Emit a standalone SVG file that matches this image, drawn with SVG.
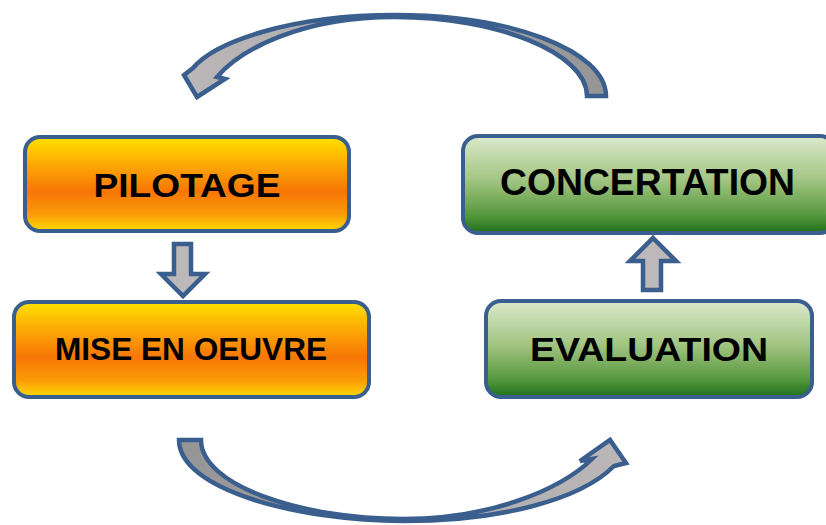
<svg xmlns="http://www.w3.org/2000/svg" width="826" height="525" viewBox="0 0 826 525">
<defs>
<linearGradient id="gOrange" x1="0" y1="0" x2="0" y2="1">
<stop offset="0" stop-color="#FFE300"/>
<stop offset="0.25" stop-color="#FDB005"/>
<stop offset="0.58" stop-color="#F77606"/>
<stop offset="0.82" stop-color="#FA9A08"/>
<stop offset="1" stop-color="#FFDA00"/>
</linearGradient>
<linearGradient id="gGreen" x1="0" y1="0" x2="0" y2="1">
<stop offset="0" stop-color="#DBE9CC"/>
<stop offset="0.45" stop-color="#A3C583"/>
<stop offset="0.8" stop-color="#5A9A40"/>
<stop offset="1" stop-color="#1D7119"/>
</linearGradient>
<linearGradient id="gTop" x1="1" y1="0" x2="0" y2="0">
<stop offset="0" stop-color="#959595"/>
<stop offset="1" stop-color="#BCB8BA"/>
</linearGradient>
<linearGradient id="gBot" x1="0" y1="0" x2="1" y2="0">
<stop offset="0" stop-color="#959595"/>
<stop offset="1" stop-color="#BCB8BA"/>
</linearGradient>
</defs>
<style>
.box{stroke:#3A5F8E;stroke-width:4}
.orange{fill:url(#gOrange)}
.green{fill:url(#gGreen)}
.lbl{font-family:"Liberation Sans",Arial,sans-serif;font-weight:bold;fill:#000;text-anchor:middle}
.arr{stroke:#3A5F8E;stroke-width:4.5;stroke-linejoin:miter}
</style>
<rect width="826" height="525" fill="#fff"/>
<g id="connectors">
<path class="arr" fill="url(#gTop)" d="M606 96 C606 51 512 15 395 15 C290 15 215 42 193 68 L184 75 L197 97 L225 79 L217 77 C240 50 300 17 395 17 C497 17 587 53 587 96 Z"/>
<path class="arr" fill="url(#gBot)" d="M179 440 C179 490 300 521 403 521 C500 521 580 500 614 466 L626 463 L610 440 L580 461 L592 459 C560 490 490 519 403 519 C300 519 201 485 201 440 Z"/>
<path class="arr" fill="#BDB9BB" d="M174 244 L191 244 L191 274 L205 274 L183 296 L161 274 L174 274 Z"/>
<path class="arr" fill="#BDB9BB" d="M653 238 L676 261 L661 261 L661 290 L643 290 L643 261 L630 261 Z"/>
</g>
<g id="pilotage">
<rect class="box orange" x="25" y="137" width="324" height="94" rx="15"/>
<text class="lbl" x="187" y="197" font-size="34" textLength="187" lengthAdjust="spacingAndGlyphs">PILOTAGE</text>
</g>
<g id="mise-en-oeuvre">
<rect class="box orange" x="14" y="302" width="355" height="95" rx="15"/>
<text class="lbl" x="191" y="360" font-size="31" textLength="272" lengthAdjust="spacingAndGlyphs">MISE EN OEUVRE</text>
</g>
<g id="concertation">
<rect class="box green" x="463" y="136" width="372" height="97" rx="15"/>
<text class="lbl" x="647.5" y="195" font-size="36" textLength="295" lengthAdjust="spacingAndGlyphs">CONCERTATION</text>
</g>
<g id="evaluation">
<rect class="box green" x="486" y="301" width="326" height="96" rx="15"/>
<text class="lbl" x="649" y="361" font-size="34" textLength="238" lengthAdjust="spacingAndGlyphs">EVALUATION</text>
</g>
</svg>
